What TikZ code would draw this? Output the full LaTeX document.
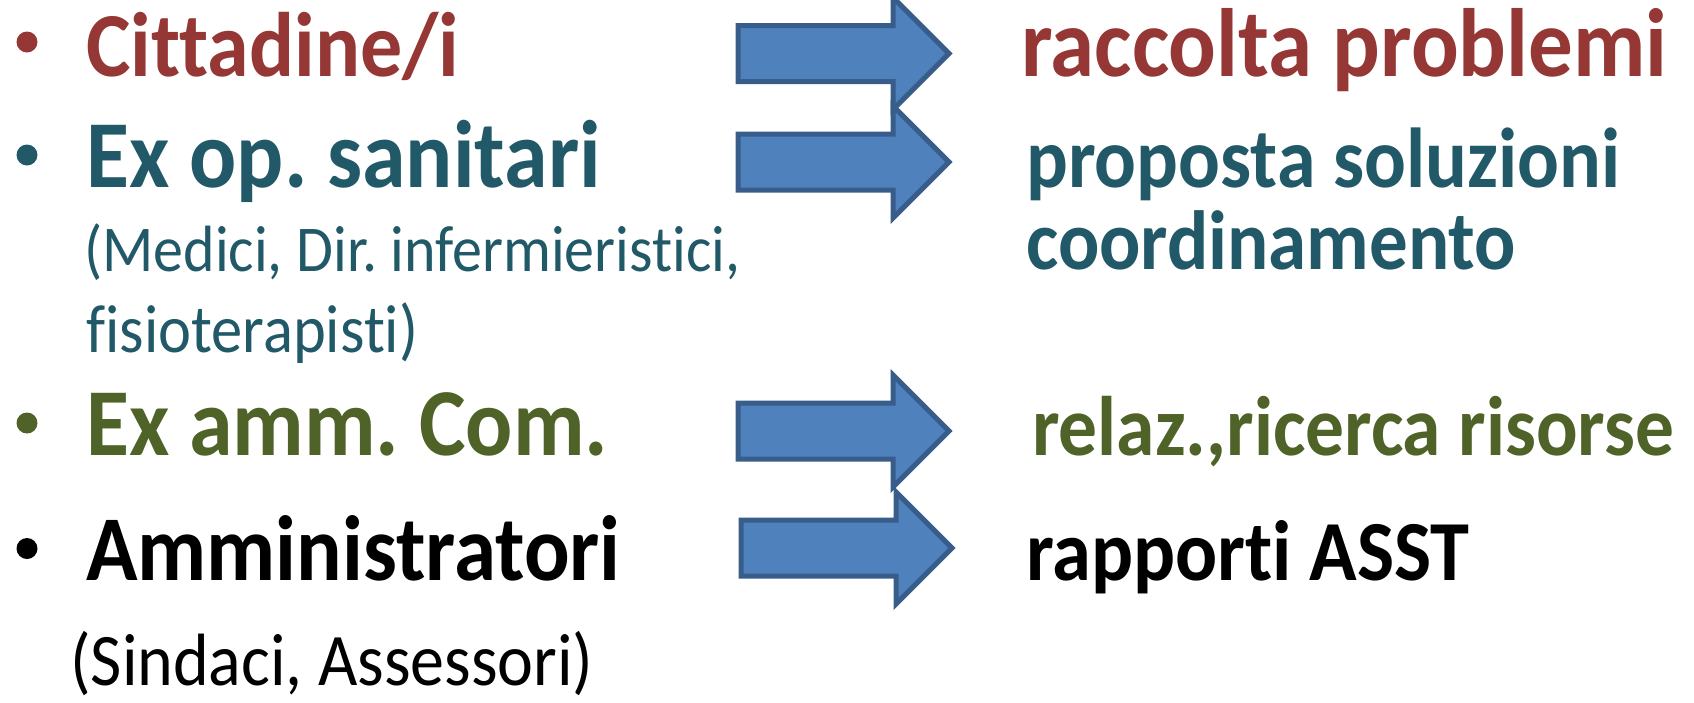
\documentclass[tikz,border=0pt]{standalone}
\usepackage{fontspec}
\setmainfont{Carlito}[Ligatures={NoCommon}]
\frenchspacing
\definecolor{cred}{HTML}{953735}
\definecolor{cteal}{HTML}{215968}
\definecolor{cgreen}{HTML}{4F6228}
\definecolor{arrowfill}{HTML}{4F81BD}
\definecolor{arrowline}{HTML}{385D8A}
\newcommand\ystr[1]{\scalebox{1}[1.09]{#1}}
\tikzset{
  txt/.style={anchor=base west,inner sep=0pt},
  big/.style={txt,font=\fontsize{#1}{#1}\selectfont\bfseries},
  small/.style={txt,font=\fontsize{#1}{#1}\selectfont},
  bul/.style={circle,inner sep=0pt,minimum size=21pt},
  blockarrow/.style={fill=arrowfill,draw=arrowline,line width=5pt,miter limit=10},
  barrow/.pic={\draw[blockarrow] (0,-28) -- (155,-28) -- (155,-56) -- (211,0) -- (155,56) -- (155,28) -- (0,28) -- cycle;}
}
\begin{document}
\begin{tikzpicture}[x=1pt,y=-1pt]
\useasboundingbox (0,0) rectangle (1694,702);
% left column
\node[bul,fill=cred] (b1) at (27,42) {};
\node[big=84,text=cred] (t1) at (86,76) {\ystr{Cittadine/i}};
\node[bul,fill=cteal] (b2) at (27,155) {};
\node[big=88,text=cteal] (t2) at (86,187) {\ystr{Ex op. sanitari}};
\node[small=60,text=cteal] (t2a) at (84,271) {\ystr{(Medici, Dir. infermieristici,}};
\node[small=62.5,text=cteal] (t2b) at (86,352) {\ystr{fisioterapisti)}};
\node[bul,fill=cgreen] (b3) at (27,423) {};
\node[big=88,text=cgreen] (t3) at (86,455) {\ystr{Ex amm. Com.}};
\node[bul,fill=black] (b4) at (27,548.5) {};
\node[big=85,text=black] (t4) at (86,580) {\ystr{Amministratori}};
\node[small=68,text=black] (t4a) at (70,685) {\ystr{(Sindaci, Assessori)}};
% arrows
\pic at (738,53.5) {barrow};
\pic at (738,162) {barrow};
\pic at (738,431) {barrow};
\pic at (741,548) {barrow};
% right column
\node[big=89,text=cred] (r1) at (1021,76) {\ystr{raccolta problemi}};
\node[big=78,text=cteal] (r2) at (1026,187) {\ystr{proposta soluzioni}};
\node[big=77,text=cteal] (r2b) at (1026,269) {\ystr{coordinamento}};
\node[big=77.5,text=cgreen] (r3) at (1032,455) {\ystr{relaz.,ricerca risorse}};
\node[big=78.5,text=black] (r4) at (1026,580) {\ystr{rapporti ASST}};
\end{tikzpicture}
\end{document}
